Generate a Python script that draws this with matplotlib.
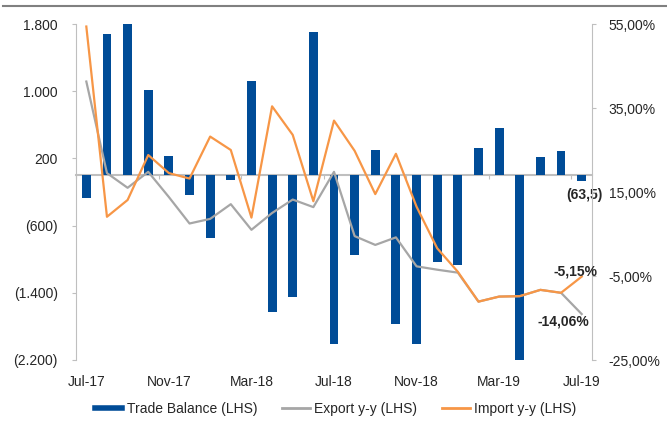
import numpy as np
import matplotlib
matplotlib.use("Agg")
import matplotlib.pyplot as plt
from matplotlib.lines import Line2D
from matplotlib.ticker import FuncFormatter

plt.rcParams['font.family'] = ['Liberation Sans', 'DejaVu Sans']

months = ['Jul-17', 'Aug-17', 'Sep-17', 'Oct-17', 'Nov-17', 'Dec-17',
          'Jan-18', 'Feb-18', 'Mar-18', 'Apr-18', 'May-18', 'Jun-18',
          'Jul-18', 'Aug-18', 'Sep-18', 'Oct-18', 'Nov-18', 'Dec-18',
          'Jan-19', 'Feb-19', 'Mar-19', 'Apr-19', 'May-19', 'Jun-19', 'Jul-19']

# trade balance (LHS)
trade_balance = [-270, 1680, 1800, 1010, 230, -230, -750, -55, 1125, -1630,
                 -1455, 1705, -2005, -950, 300, -1775, -2005, -1030, -1068,
                 320, 563, -2200, 214, 290, -63.5]

# y-y growth in %, right axis
export_yy = [41.3, 19.5, 16.0, 19.8, 13.8, 7.5, 8.6, 12.1, 6.0, 10.0, 13.2,
             11.4, 19.8, 4.5, 2.4, 4.2, -2.7, -3.5, -4.2, -11.1, -9.9, -9.8,
             -8.3, -9.0, -14.06]
import_yy = [54.4, 9.1, 13.1, 23.8, 19.5, 18.2, 28.2, 25.0, 8.9, 35.4, 28.6,
             12.8, 32.0, 24.8, 14.5, 24.1, 11.5, 1.6, -4.0, -11.1, -9.9, -9.8,
             -8.3, -9.0, -5.15]

lhs_ticks = [-2200, -1400, -600, 200, 1000, 1800]
rhs_ticks = [-25, -5, 15, 35, 55]

BLUE = '#004C97'
GREY = '#A6A6A6'
ORANGE = '#F79646'
AXIS = '#BFBFBF'
TEXT = '#262626'


def fmt_lhs(v, pos=None):
    s = f"{abs(v):,.0f}".replace(',', '.')
    return f"({s})" if v < 0 else s


def fmt_rhs(v, pos=None):
    return f"{v:.2f}".replace('.', ',') + '%'


def fmt_bar(v):
    s = f"{abs(v):.1f}".replace('.', ',')
    return f"({s})" if v < 0 else s


fig = plt.figure(figsize=(6.67, 4.21), dpi=100)
ax = fig.add_axes([76 / 667, 1 - 360 / 421, (592 - 76) / 667, 336 / 421])
x = np.arange(len(months))

ax.bar(x, trade_balance, width=0.43, color=BLUE, zorder=2)
ax.set_xlim(-0.5, len(months) - 0.5)
ax.set_ylim(lhs_ticks[0], lhs_ticks[-1])
ax.set_yticks(lhs_ticks)
ax.yaxis.set_major_formatter(FuncFormatter(fmt_lhs))

# category axis sits on zero, ticks every 4 months between bars
ax.spines['bottom'].set_position(('data', 0))
ax.spines['bottom'].set_color(AXIS)
ax.spines['bottom'].set_linewidth(1.5)
ax.spines['bottom'].set_zorder(1)
ax.set_xticks(np.arange(-0.5, len(months), 4))
ax.tick_params(axis='x', direction='out', length=3, color=AXIS, labelbottom=False)
ax.spines['left'].set_color(AXIS)
ax.spines['top'].set_visible(False)
ax.spines['right'].set_visible(False)
ax.tick_params(axis='y', direction='out', length=3, color=AXIS,
               labelsize=10, labelcolor=TEXT, pad=10)

sec = ax.secondary_xaxis('bottom')
sec.set_xticks(x[::4], labels=months[::4])
sec.spines['bottom'].set_visible(False)
sec.tick_params(length=0, pad=11, labelsize=10, labelcolor=TEXT)

ax.annotate(fmt_bar(trade_balance[-1]), (x[-1], trade_balance[-1]),
            xytext=(3, -7), textcoords='offset pixels', ha='center', va='top',
            fontsize=10, fontweight='bold', color=TEXT)

ax2 = ax.twinx()
ax2.plot(x, export_yy, color=GREY, lw=1.6)
ax2.plot(x, import_yy, color=ORANGE, lw=1.6)
ax2.set_ylim(rhs_ticks[0], rhs_ticks[-1])
ax2.set_yticks(rhs_ticks)
ax2.yaxis.set_major_formatter(FuncFormatter(fmt_rhs))
for s in ['top', 'bottom', 'left']:
    ax2.spines[s].set_visible(False)
ax2.spines['right'].set_color(AXIS)
ax2.tick_params(axis='y', direction='out', length=3, color=AXIS,
                labelsize=10, labelcolor=TEXT, pad=9)

ax2.annotate(fmt_rhs(import_yy[-1]), (x[-1], import_yy[-1]),
             xytext=(-6, 5), textcoords='offset pixels', ha='center', va='center',
             fontsize=10, fontweight='bold', color=TEXT)
ax2.annotate(fmt_rhs(export_yy[-1]), (x[-1], export_yy[-1]),
             xytext=(-18, -7), textcoords='offset pixels', ha='center', va='center',
             fontsize=10, fontweight='bold', color=TEXT)

handles = [Line2D([], [], color=BLUE, lw=4),
           Line2D([], [], color=GREY, lw=2),
           Line2D([], [], color=ORANGE, lw=2)]
fig.legend(handles, ['Trade Balance (LHS)', 'Export y-y (LHS)', 'Import y-y (LHS)'],
           loc='center', bbox_to_anchor=(0.503, 0.028), ncol=3, frameon=False,
           fontsize=10, handlelength=2.0, handletextpad=0.3, columnspacing=1.8,
           labelcolor=TEXT)

# grey rule across the top
fig.add_artist(Line2D([0.005, 1.0], [1 - 6 / 421] * 2, color='#808080', lw=1.5))

fig.savefig('out.png', dpi=100)
